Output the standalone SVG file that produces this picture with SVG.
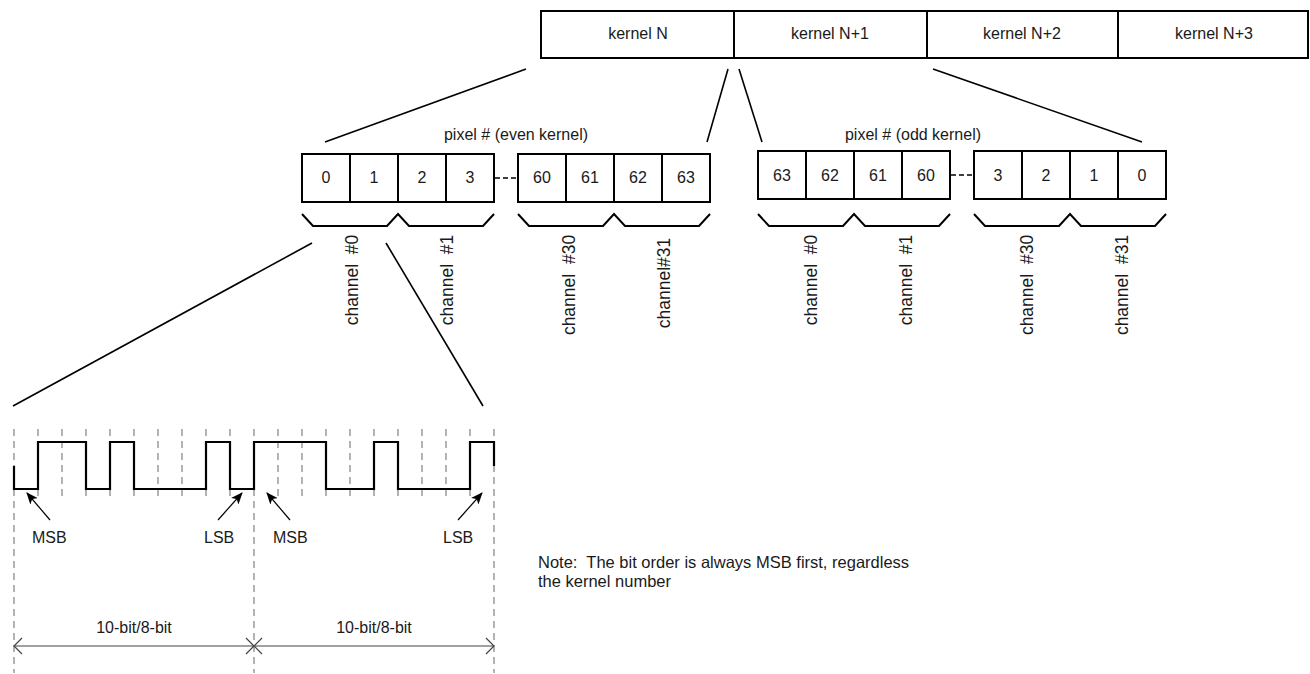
<svg xmlns="http://www.w3.org/2000/svg" width="1310" height="674" viewBox="0 0 1310 674">
<defs>
<style>
text{font-family:"Liberation Sans",Arial,sans-serif;font-size:16px;fill:#1a1a1a}
.c{text-anchor:middle}
.pre{white-space:pre}
.ch{font-size:17.5px}
.box{fill:#fff;stroke:#000;stroke-width:2}
.ln{fill:none;stroke:#000;stroke-width:1.6}
.brace{fill:none;stroke:#000;stroke-width:2;stroke-linejoin:miter}
.gap{stroke:#000;stroke-width:1.6;stroke-dasharray:5,3}
.grid{stroke:#8a8a8a;stroke-width:1.3;stroke-dasharray:7,5}
.sig{fill:none;stroke:#000;stroke-width:2.2}
.dim{fill:none;stroke:#444;stroke-width:1.2}
</style>
<marker id="ah" viewBox="0 0 12 10" refX="11" refY="5" markerWidth="12" markerHeight="10" markerUnits="userSpaceOnUse" orient="auto">
<path d="M0,0 L12,5 L0,10 L3,5 Z" fill="#000"/>
</marker>
</defs>
<rect width="1310" height="674" fill="#fff"/>

<g id="kernels">
<rect class="box" x="541" y="11" width="767" height="47"/>
<line class="ln" x1="734" y1="11" x2="734" y2="58" style="stroke-width:2"/>
<line class="ln" x1="927" y1="11" x2="927" y2="58" style="stroke-width:2"/>
<line class="ln" x1="1118" y1="11" x2="1118" y2="58" style="stroke-width:2"/>
<text class="c" x="638" y="39">kernel N</text>
<text class="c" x="830" y="39">kernel N+1</text>
<text class="c" x="1022" y="39">kernel N+2</text>
<text class="c" x="1214" y="39">kernel N+3</text>
</g>

<g id="connectors">
<line class="ln" x1="526" y1="69" x2="325" y2="142"/>
<line class="ln" x1="728" y1="69" x2="707" y2="142"/>
<line class="ln" x1="739" y1="69" x2="762" y2="142"/>
<line class="ln" x1="933" y1="69" x2="1142" y2="142"/>
<line class="ln" x1="312" y1="243" x2="13" y2="406"/>
<line class="ln" x1="386" y1="243" x2="483" y2="406"/>
</g>

<g id="even-kernel">
<text class="c" x="516" y="140">pixel # (even kernel)</text>
<rect class="box" x="302" y="154" width="48" height="48"/>
<rect class="box" x="350" y="154" width="48" height="48"/>
<rect class="box" x="398" y="154" width="48" height="48"/>
<rect class="box" x="446" y="154" width="48" height="48"/>
<line class="gap" x1="495" y1="178" x2="517" y2="178"/>
<rect class="box" x="518" y="154" width="48" height="48"/>
<rect class="box" x="566" y="154" width="48" height="48"/>
<rect class="box" x="614" y="154" width="48" height="48"/>
<rect class="box" x="662" y="154" width="48" height="48"/>
<text class="c" x="326" y="183">0</text>
<text class="c" x="374" y="183">1</text>
<text class="c" x="422" y="183">2</text>
<text class="c" x="470" y="183">3</text>
<text class="c" x="542" y="183">60</text>
<text class="c" x="590" y="183">61</text>
<text class="c" x="638" y="183">62</text>
<text class="c" x="686" y="183">63</text>
<path class="brace" d="M302,214 L313,226 L387,226 L398,214 L409,226 L483,226 L494,214"/>
<path class="brace" d="M518,214 L529,226 L603,226 L614,214 L625,226 L699,226 L710,214"/>
<text class="c pre ch" transform="translate(358,280) rotate(-90)">channel  #0</text>
<text class="c pre ch" transform="translate(453,280) rotate(-90)">channel  #1</text>
<text class="c pre ch" transform="translate(575,285) rotate(-90)">channel  #30</text>
<text class="c ch" transform="translate(670,283) rotate(-90)">channel#31</text>
</g>

<g id="odd-kernel">
<text class="c" x="913" y="140">pixel # (odd kernel)</text>
<rect class="box" x="758" y="151" width="48" height="48"/>
<rect class="box" x="806" y="151" width="48" height="48"/>
<rect class="box" x="854" y="151" width="48" height="48"/>
<rect class="box" x="902" y="151" width="48" height="48"/>
<line class="gap" x1="951" y1="175" x2="973" y2="175"/>
<rect class="box" x="974" y="151" width="48" height="48"/>
<rect class="box" x="1022" y="151" width="48" height="48"/>
<rect class="box" x="1070" y="151" width="48" height="48"/>
<rect class="box" x="1118" y="151" width="48" height="48"/>
<text class="c" x="782" y="181">63</text>
<text class="c" x="830" y="181">62</text>
<text class="c" x="878" y="181">61</text>
<text class="c" x="926" y="181">60</text>
<text class="c" x="998" y="181">3</text>
<text class="c" x="1046" y="181">2</text>
<text class="c" x="1094" y="181">1</text>
<text class="c" x="1142" y="181">0</text>
<path class="brace" d="M758,214 L769,226 L843,226 L854,214 L865,226 L939,226 L950,214"/>
<path class="brace" d="M974,214 L985,226 L1059,226 L1070,214 L1081,226 L1155,226 L1166,214"/>
<text class="c pre ch" transform="translate(817,280) rotate(-90)">channel  #0</text>
<text class="c pre ch" transform="translate(912,280) rotate(-90)">channel  #1</text>
<text class="c pre ch" transform="translate(1033,285) rotate(-90)">channel  #30</text>
<text class="c pre ch" transform="translate(1128,285) rotate(-90)">channel  #31</text>
</g>

<g id="waveform">
<g id="grid">
<line class="grid" x1="14" y1="429" x2="14" y2="673"/>
<line class="grid" x1="38" y1="429" x2="38" y2="500"/>
<line class="grid" x1="62" y1="429" x2="62" y2="500"/>
<line class="grid" x1="86" y1="429" x2="86" y2="500"/>
<line class="grid" x1="110" y1="429" x2="110" y2="500"/>
<line class="grid" x1="134" y1="429" x2="134" y2="500"/>
<line class="grid" x1="158" y1="429" x2="158" y2="500"/>
<line class="grid" x1="182" y1="429" x2="182" y2="500"/>
<line class="grid" x1="206" y1="429" x2="206" y2="500"/>
<line class="grid" x1="230" y1="429" x2="230" y2="500"/>
<line class="grid" x1="254" y1="429" x2="254" y2="673"/>
<line class="grid" x1="278" y1="429" x2="278" y2="500"/>
<line class="grid" x1="302" y1="429" x2="302" y2="500"/>
<line class="grid" x1="326" y1="429" x2="326" y2="500"/>
<line class="grid" x1="350" y1="429" x2="350" y2="500"/>
<line class="grid" x1="374" y1="429" x2="374" y2="500"/>
<line class="grid" x1="398" y1="429" x2="398" y2="500"/>
<line class="grid" x1="422" y1="429" x2="422" y2="500"/>
<line class="grid" x1="446" y1="429" x2="446" y2="500"/>
<line class="grid" x1="470" y1="429" x2="470" y2="500"/>
<line class="grid" x1="494" y1="429" x2="494" y2="673"/>
</g>
<path class="sig" d="M14,466 V489 H38 V442 H86 V489 H110 V442 H134 V489 H206 V442 H230 V489 H254 V442 H326 V489 H374 V442 H398 V489 H470 V442 H494 V466"/>
<line class="ln" x1="50" y1="520" x2="27" y2="493" style="stroke-width:1.2" marker-end="url(#ah)"/>
<line class="ln" x1="218" y1="520" x2="242" y2="493" style="stroke-width:1.2" marker-end="url(#ah)"/>
<line class="ln" x1="290" y1="520" x2="267" y2="493" style="stroke-width:1.2" marker-end="url(#ah)"/>
<line class="ln" x1="458" y1="520" x2="482" y2="493" style="stroke-width:1.2" marker-end="url(#ah)"/>
<text x="32" y="543">MSB</text>
<text x="204" y="543">LSB</text>
<text x="273" y="543">MSB</text>
<text x="443" y="543">LSB</text>
<line class="dim" x1="14" y1="646" x2="494" y2="646"/>
<path class="dim" d="M22,638 L14,646 L22,654 M246,638 L254,646 L246,654 M262,638 L254,646 L262,654 M486,638 L494,646 L486,654"/>
<text class="c" x="134" y="633">10-bit/8-bit</text>
<text class="c" x="374" y="633">10-bit/8-bit</text>
</g>

<g id="note">
<text class="pre" x="538" y="568" style="font-size:16.5px">Note:  The bit order is always MSB first, regardless</text>
<text x="538" y="587" style="font-size:16.5px">the kernel number</text>
</g>
</svg>
